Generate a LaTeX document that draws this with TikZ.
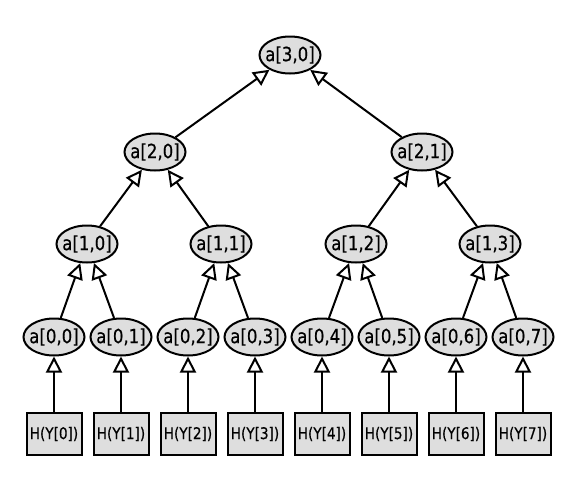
\documentclass[tikz,border=0pt]{standalone}
\usepackage{fontspec}
\setmainfont{DejaVu Sans}
\newfontfamily\dfont[FakeStretch=0.85,FakeBold=0.5]{DejaVu Sans}
\usetikzlibrary{shapes.geometric,arrows.meta}
\newcommand{\zw}[1]{\makebox[0pt]{#1}}
\begin{document}
\begin{tikzpicture}[x=1pt,y=-1pt,
  ell/.style={ellipse,draw,line width=2pt,fill=gray!26,minimum width=61pt,minimum height=37pt,inner sep=0pt,font=\dfont\fontsize{19.5}{22}\selectfont},
  hbox/.style={rectangle,draw,line width=2pt,fill=gray!26,minimum width=55pt,minimum height=42pt,inner sep=0pt,font=\dfont\fontsize{16}{19}\selectfont},
  edge/.style={draw,line width=2pt,-{Triangle[open,length=16pt,width=16pt,fill=white]}}]
\useasboundingbox (0,0) rectangle (574,499);
% root
\node[ell] (a30) at (290,55) {\zw{a[3,0]}};
% level 2
\node[ell] (a20) at (155,152) {\zw{a[2,0]}};
\node[ell] (a21) at (422,152) {\zw{a[2,1]}};
% level 1
\node[ell] (a10) at (87,244) {\zw{a[1,0]}};
\node[ell] (a11) at (221,244) {\zw{a[1,1]}};
\node[ell] (a12) at (356,244) {\zw{a[1,2]}};
\node[ell] (a13) at (490,244) {\zw{a[1,3]}};
% level 0
\foreach \i/\x in {0/54,1/121,2/188,3/255,4/322,5/389,6/456,7/523}{
  \node[ell] (a0\i) at (\x,337) {\zw{a[0,\i]}};
  \node[hbox] (h\i) at (\x,434) {\zw{H(Y[\i])}};
  \draw[edge] (h\i) -- (a0\i);
}
\draw[edge] (a20) -- (a30);
\draw[edge] (a21) -- (a30);
\draw[edge] (a10) -- (a20);
\draw[edge] (a11) -- (a20);
\draw[edge] (a12) -- (a21);
\draw[edge] (a13) -- (a21);
\draw[edge] (a00) -- (a10);
\draw[edge] (a01) -- (a10);
\draw[edge] (a02) -- (a11);
\draw[edge] (a03) -- (a11);
\draw[edge] (a04) -- (a12);
\draw[edge] (a05) -- (a12);
\draw[edge] (a06) -- (a13);
\draw[edge] (a07) -- (a13);
\end{tikzpicture}
\end{document}
